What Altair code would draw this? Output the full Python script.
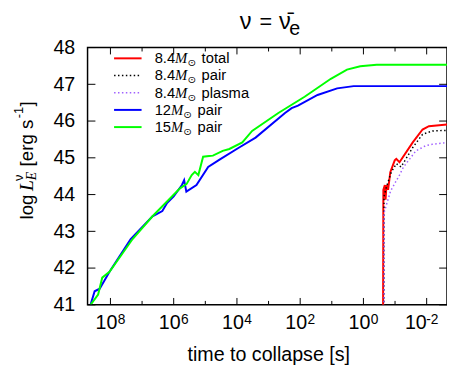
import altair as alt
import pandas as pd

# ---------------- data ----------------
# log10(time to collapse [s]) and log L
green_tlog = [8.63, 8.39, 8.26, 8.03, 7.30, 6.67, 5.80, 5.59, 5.43, 5.33, 5.22, 5.07, 4.88, 4.76,
              4.45, 4.24, 3.83, 3.52, 2.69, 1.86, 1.03, 0.52, 0.10, -0.42, -2.70]
green_L = [41.0, 41.28, 41.74, 41.90, 42.79, 43.41, 44.17, 44.29, 44.53, 44.62, 44.53, 45.03, 45.05, 45.06,
           45.19, 45.24, 45.42, 45.73, 46.22, 46.66, 47.15, 47.40, 47.49, 47.53, 47.53]

blue_tlog = [8.63, 8.50, 8.34, 8.03, 7.36, 6.67, 6.36, 6.21, 6.00, 5.74, 5.67, 5.60, 5.28, 4.91,
             4.55, 3.93, 3.41, 2.48, 2.27, 2.07, 1.45, 0.83, 0.31, -2.70]
blue_L = [41.0, 41.37, 41.44, 41.90, 42.79, 43.41, 43.55, 43.77, 43.95, 44.26, 44.39, 44.08, 44.26, 44.75,
          44.95, 45.28, 45.55, 46.22, 46.35, 46.42, 46.71, 46.89, 46.95, 46.95]

total_tlog = [-0.62, -0.63, -0.677, -0.70, -0.73, -0.78, -0.85, -0.99, -1.04, -1.14, -1.56, -1.87, -2.07, -2.70]
total_L = [40.0, 44.13, 44.26, 43.86, 44.26, 44.13, 44.61, 44.93, 44.97, 44.88, 45.42, 45.77, 45.86, 45.91]

pair_tlog = [-0.65, -0.65, -0.73, -0.88, -1.04, -1.19, -1.56, -1.87, -2.18, -2.70]
pair_L = [40.0, 43.95, 44.21, 44.61, 44.84, 44.75, 45.28, 45.64, 45.73, 45.75]

plasma_tlog = [-0.65, -0.65, -0.86, -1.14, -1.26, -1.66, -1.97, -2.18, -2.70]
plasma_L = [40.0, 43.50, 44.10, 44.53, 44.74, 45.19, 45.33, 45.37, 45.42]

y_ticks = [41, 42, 43, 44, 45, 46, 47, 48]
x_major = [1e8, 1e6, 1e4, 1e2, 1e0, 1e-2]
x_major_exp = ["8", "6", "4", "2", "0", "-2"]
x_minor = [1e7, 1e5, 1e3, 1e1, 1e-1]

legend_prefix = ["8.4", "8.4", "8.4", "12", "15"]
legend_suffix = ["total", "pair", "plasma", "pair", "pair"]

# ---------------- styling ----------------
W, H = 366, 262
SANS = "Liberation Sans"
SERIF = "Liberation Serif"

styles = [
    dict(color="#ff0000", width=2.0, dash=None),         # 8.4 total
    dict(color="#000000", width=1.5, dash=[1.5, 2.5]),   # 8.4 pair
    dict(color="#a060ff", width=1.5, dash=[1.5, 2.5]),   # 8.4 plasma
    dict(color="#0000ff", width=2.0, dash=None),         # 12 pair
    dict(color="#00ff00", width=2.0, dash=None),         # 15 pair
]
series = [(total_tlog, total_L), (pair_tlog, pair_L), (plasma_tlog, plasma_L),
          (blue_tlog, blue_L), (green_tlog, green_L)]

xscale = alt.Scale(type="log", domain=[2.275e-3, 5.3e8], reverse=True, nice=False)
yscale = alt.Scale(domain=[41, 48], nice=False, zero=False)
yaxis = alt.Axis(values=y_ticks, labelFontSize=20, labelFont=SANS, labelColor="black",
                 labelOverlap=False, labelFlush=False, labelBound=False, tickCount=8,
                 ticks=False, domain=False, grid=False, labelPadding=13, title=None)

X = alt.X("t:Q", scale=xscale, axis=None)
Y = alt.Y("v:Q", scale=yscale, axis=yaxis)

layers = []
one = pd.DataFrame({"a": [0]})

for (tl, L), st in zip(series, styles):
    df = pd.DataFrame({"t": [10 ** x for x in tl], "v": L, "i": range(len(L))})
    kw = dict(color=st["color"], strokeWidth=st["width"], clip=True)
    if st["dash"]:
        kw["strokeDash"] = st["dash"]
    layers.append(alt.Chart(df).mark_line(**kw).encode(x=X, y=Y, order="i:Q"))

# inward ticks
ydf = pd.DataFrame({"v": y_ticks})
layers.append(alt.Chart(ydf).mark_rule(color="black", strokeWidth=1).encode(
    y=Y, x=alt.value(0), x2=alt.value(8)))
layers.append(alt.Chart(ydf).mark_rule(color="black", strokeWidth=1).encode(
    y=Y, x=alt.value(W - 8), x2=alt.value(W)))

for vals, ln in [(x_major, 7), (x_minor, 4)]:
    xdf = pd.DataFrame({"t": vals})
    layers.append(alt.Chart(xdf).mark_rule(color="black", strokeWidth=1).encode(
        x=X, y=alt.value(H), y2=alt.value(H - ln)))
    layers.append(alt.Chart(xdf).mark_rule(color="black", strokeWidth=1).encode(
        x=X, y=alt.value(0), y2=alt.value(ln)))

# x tick labels 10^n
lab = pd.DataFrame({"t": x_major, "e": x_major_exp})
lab["neg"] = lab["e"].str.startswith("-")
for neg, d10, dexp in [(False, -4, 7.5), (True, -11, -0.5)]:
    sub = lab[lab["neg"] == neg]
    layers.append(alt.Chart(sub).mark_text(text="10", font=SANS, fontSize=20, align="center",
                                           baseline="alphabetic", dx=d10, color="black").encode(
        x=X, y=alt.value(H + 25)))
    layers.append(alt.Chart(sub).mark_text(font=SANS, fontSize=14, align="left",
                                           baseline="alphabetic", dx=dexp, color="black").encode(
        x=X, y=alt.value(H + 20), text="e:N"))

# x title
layers.append(alt.Chart(one).mark_text(text="time to collapse [s]", font=SANS, fontSize=20,
                                       align="center", baseline="alphabetic", color="black").encode(
    x=alt.value(W / 2 + 1.5), y=alt.value(H + 57)))

# y title pieces (rotated)
ytitle = [
    ("log", SANS, "normal", 19, 175, -56),
    ("L", SERIF, "italic", 20, 146, -56),
    ("E", SERIF, "italic", 14, 135, -52),
    ("ν", SANS, "normal", 13, 136, -66),
    ("[erg s", SANS, "normal", 19, 121, -56),
    ("-1", SANS, "normal", 13, 72, -66),
    ("]", SANS, "normal", 19, 60, -56),
]
for txt, fnt, sty, fs, ys, xb in ytitle:
    layers.append(alt.Chart(one).mark_text(text=txt, font=fnt, fontStyle=sty, fontSize=fs, angle=270,
                                           align="left", baseline="alphabetic", color="black").encode(
        x=alt.value(xb), y=alt.value(ys)))

# title  nu = anti-nu_e
title_parts = [
    ("ν", SANS, 24, 161, -19),
    ("=", SANS, 22, 181.5, -19),
    ("ν\u0304", SANS, 24, 201, -19),
    ("e", SANS, 20, 211, -13),
]
for txt, fnt, fs, xc, yb in title_parts:
    layers.append(alt.Chart(one).mark_text(text=txt, font=fnt, fontSize=fs, align="center",
                                           baseline="alphabetic", color="black").encode(
        x=alt.value(xc), y=alt.value(yb)))

# legend
for i, (pre, suf) in enumerate(zip(legend_prefix, legend_suffix)):
    st = styles[i]
    ry = 11 + 17.5 * i
    kw = dict(color=st["color"], strokeWidth=st["width"])
    if st["dash"]:
        kw["strokeDash"] = st["dash"]
    layers.append(alt.Chart(one).mark_rule(**kw).encode(
        x=alt.value(27), x2=alt.value(55), y=alt.value(ry)))
    x0 = 68.3
    wpre = sum(0.278 * 15 if c == "." else 0.556 * 15 for c in pre)
    xm = x0 + wpre
    pieces = [(pre, SANS, "normal", 15, x0, ry),
              ("M", SERIF, "italic", 15, xm, ry),
              ("⊙", "DejaVu Sans", "normal", 10, xm + 12.5, ry + 5),
              (suf, SANS, "normal", 15, xm + 27, ry)]
    for txt, fnt, sty, fs, px, py in pieces:
        layers.append(alt.Chart(one).mark_text(text=txt, font=fnt, fontStyle=sty, fontSize=fs,
                                               align="left", baseline="middle", color="black").encode(
            x=alt.value(px), y=alt.value(py)))

chart = alt.layer(*layers).properties(
    width=W, height=H,
    padding={"left": 81, "top": 37, "right": 0, "bottom": 59},
    autosize=alt.AutoSizeParams(type="none"),
).configure_view(stroke="black", strokeWidth=1.5)

chart.save("out.html", embed_options={"renderer": "svg", "actions": False})
